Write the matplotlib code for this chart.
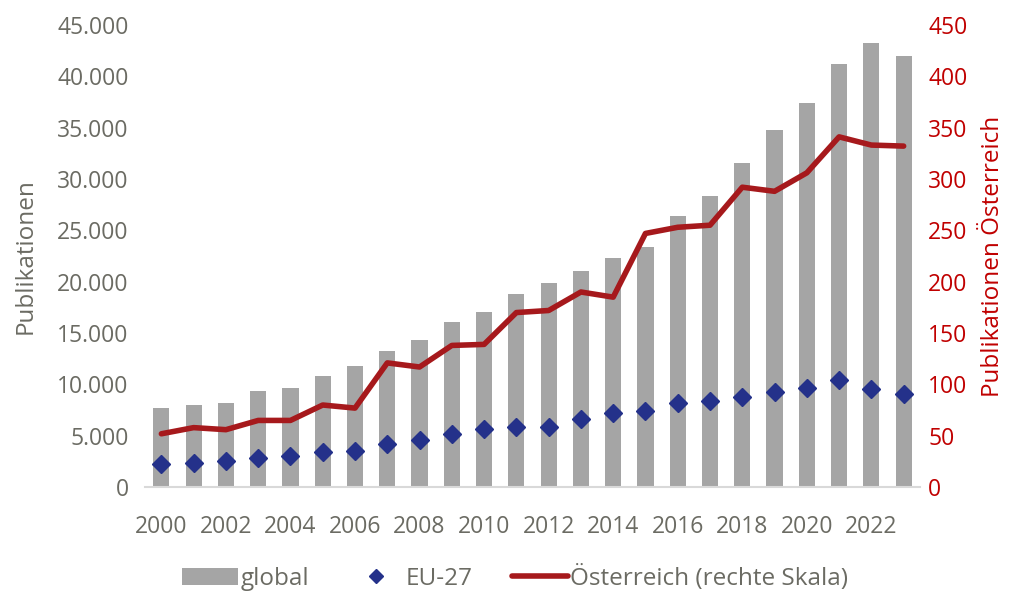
import matplotlib.pyplot as plt
import numpy as np
from matplotlib.ticker import FuncFormatter
from matplotlib.lines import Line2D

plt.rcParams['font.family'] = ['Open Sans', 'DejaVu Sans']

years = list(range(2000, 2024))
global_pub = [7700, 8000, 8150, 9400, 9700, 10800, 11800, 13300, 14300, 16100, 17100, 18800,
              19900, 21000, 22300, 23400, 26400, 28300, 31600, 34800, 37400, 41200, 43200, 42000]
eu27 = [2300, 2400, 2600, 2800, 3000, 3400, 3500, 4200, 4600, 5200, 5700, 5900,
        5900, 6600, 7200, 7400, 8200, 8400, 8800, 9300, 9700, 10400, 9600, 9100]
austria = [52, 58, 56, 65, 65, 80, 77, 121, 117, 138, 139, 170,
           172, 190, 185, 247, 253, 255, 292, 288, 306, 341, 333, 332]

grey_txt = '#6b6b63'
red = '#a6191c'
red_txt = '#c00000'
fs = 16.5
fs_lab = 17.5

fig = plt.figure(figsize=(10.3, 5.92), dpi=100)
ax = fig.add_axes([0.141, 0.177, 0.752, 0.781])
ax2 = ax.twinx()

x = np.arange(len(years))
b = ax.bar(x, global_pub, width=0.5, color='#a5a5a5', zorder=2)
ax.plot(x, eu27, linestyle='none', marker='D', markersize=9, color='#24318a', zorder=3)
l, = ax2.plot(x, austria, color=red, linewidth=4, solid_capstyle='round')

ax.set_xlim(-0.5, len(years) - 0.5)
ax.set_ylim(0, 45000)
ax.set_yticks(range(0, 45001, 5000))
ax.yaxis.set_major_formatter(FuncFormatter(lambda v, p: f'{int(v):,}'.replace(',', '.')))
ax2.set_ylim(0, 450)
ax2.set_yticks(range(0, 451, 50))

ax.set_xticks(x[::2])
ax.set_xticklabels([str(y) for y in years[::2]])

for a in (ax, ax2):
    for sp in a.spines.values():
        sp.set_visible(False)
ax.spines['bottom'].set_visible(True)
ax.spines['bottom'].set_color('#d9d9d9')
ax.spines['bottom'].set_linewidth(1.5)

ax.tick_params(axis='both', length=0, labelsize=fs, labelcolor=grey_txt)
ax.tick_params(axis='y', pad=12)
ax.tick_params(axis='x', pad=20)
ax2.tick_params(axis='y', length=0, labelsize=fs, labelcolor=red_txt, pad=6)

ax.set_ylabel('Publikationen', fontsize=fs_lab, color=grey_txt, labelpad=14)
ax2.set_ylabel('Publikationen Österreich', fontsize=fs_lab, color=red_txt, labelpad=10)

eu_handle = Line2D([], [], linestyle='none', marker='D', markersize=7, color='#24318a')
fig.legend([b, eu_handle, l], ['global', 'EU-27', 'Österreich (rechte Skala)'],
           loc='lower center', bbox_to_anchor=(0.5, -0.035), ncol=3, frameon=False,
           fontsize=fs_lab, labelcolor=grey_txt, handlelength=2.3, handletextpad=0.1,
           columnspacing=1.6)

fig.savefig('out.png', dpi=100)
